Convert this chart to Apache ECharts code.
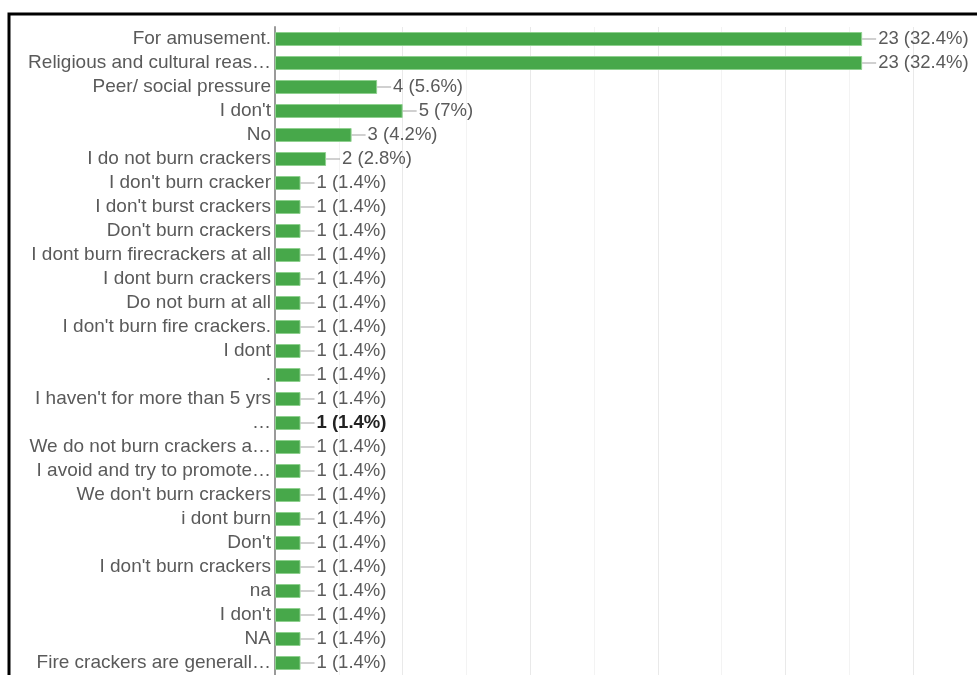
<!DOCTYPE html>
<html>
<head>
<meta charset="utf-8">
<script src="https://cdn.jsdelivr.net/npm/echarts@6/dist/echarts.min.js"></script>
<style>
  html, body { margin: 0; padding: 0; background: #fff; }
  #chart { width: 977px; height: 675px; }
</style>
</head>
<body>
<div id="chart"></div>
<script>
// Responses, listed top to bottom
const categories = [
  "For amusement.",
  "Religious and cultural reas…",
  "Peer/ social pressure",
  "I don't",
  "No",
  "I do not burn crackers",
  "I don't burn cracker",
  "I don't burst crackers",
  "Don't burn crackers",
  "I dont burn firecrackers at all",
  "I dont burn crackers",
  "Do not burn at all",
  "I don't burn fire crackers.",
  "I dont",
  ".",
  "I haven't for more than 5 yrs",
  "…",
  "We do not burn crackers a…",
  "I avoid and try to promote…",
  "We don't burn crackers",
  "i dont burn",
  "Don't",
  "I don't burn crackers",
  "na",
  "I don't",
  "NA",
  "Fire crackers are generall…"
];
const counts = [23, 23, 4, 5, 3, 2, 1, 1, 1, 1, 1, 1, 1, 1, 1, 1, 1, 1, 1, 1, 1, 1, 1, 1, 1, 1, 1];
const percents = ["32.4%", "32.4%", "5.6%", "7%", "4.2%", "2.8%",
  "1.4%", "1.4%", "1.4%", "1.4%", "1.4%", "1.4%", "1.4%", "1.4%", "1.4%", "1.4%", "1.4%",
  "1.4%", "1.4%", "1.4%", "1.4%", "1.4%", "1.4%", "1.4%", "1.4%", "1.4%", "1.4%"];
const highlightedRow = 16;

const FONT = "Liberation Sans, Arial, sans-serif";
const TEXT = '#5a5a5a';

const chart = echarts.init(document.getElementById('chart'), null, { renderer: 'canvas' });

const seriesData = counts.map((v, i) => {
  if (i !== highlightedRow) return v;
  return {
    value: v,
    label: { rich: { t: { color: '#222', fontWeight: 'bold', fontSize: 18.5, fontFamily: FONT, padding: [0, 0, 0, 2] } } }
  };
});

chart.setOption({
  animation: false,
  backgroundColor: '#fff',
  grid: { left: 275, right: 0, top: 27, bottom: 0, containLabel: false },
  xAxis: {
    type: 'value',
    min: 0,
    max: 27.5,
    interval: 5,
    axisLabel: { show: false },
    axisLine: { show: false },
    axisTick: { show: false },
    splitLine: { show: true, lineStyle: { color: '#e9e9e9', width: 1 } },
    minorTick: { show: false, splitNumber: 2 },
    minorSplitLine: { show: true, lineStyle: { color: '#f3f3f3', width: 1 } }
  },
  yAxis: {
    type: 'category',
    inverse: true,
    data: categories,
    axisLine: { show: true, lineStyle: { color: '#9a9a9a', width: 2 } },
    axisTick: { show: false },
    axisLabel: {
      interval: 0,
      hideOverlap: false,
      margin: 4,
      color: TEXT,
      fontSize: 19,
      fontFamily: FONT
    },
    splitLine: { show: false }
  },
  series: [{
    type: 'bar',
    data: seriesData,
    barWidth: 14,
    itemStyle: { color: '#47a84a', borderColor: '#8fd08f', borderWidth: 1 },
    label: {
      show: true,
      position: 'right',
      distance: 0,
      formatter: p => '{ln|}{t|' + counts[p.dataIndex] + ' (' + percents[p.dataIndex] + ')}',
      rich: {
        ln: { width: 14, height: 1, backgroundColor: '#a0a0a0' },
        t: { color: TEXT, fontSize: 18.5, fontFamily: FONT, padding: [0, 0, 0, 2] }
      }
    }
  }],
  graphic: [{
    type: 'rect',
    shape: { x: 9, y: 14, width: 1000, height: 700 },
    style: { fill: null, stroke: '#000', lineWidth: 3 },
    z: 100
  }]
});
</script>
</body>
</html>
